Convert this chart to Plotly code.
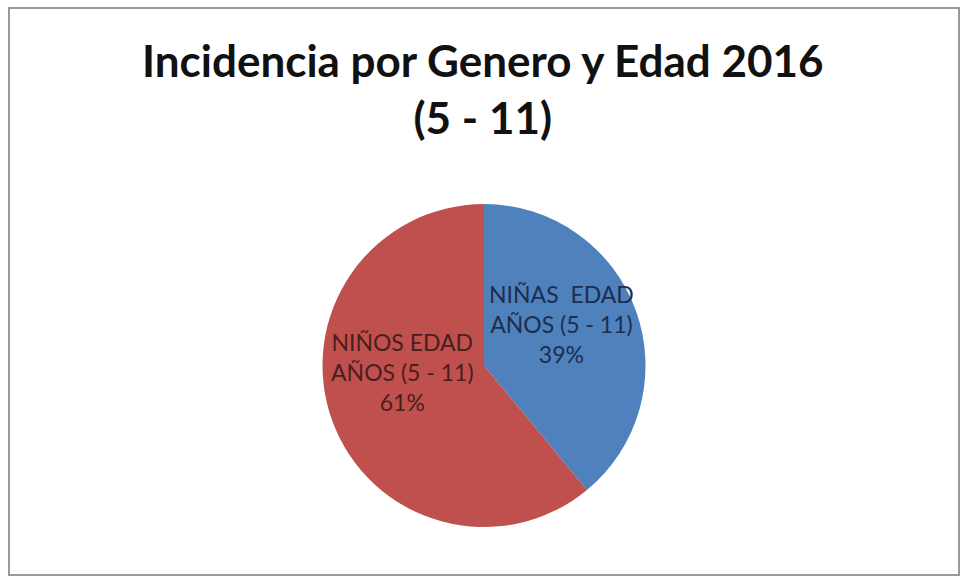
import plotly.graph_objects as go

# Data
labels = ["NIÑAS  EDAD<br>AÑOS (5 - 11)", "NIÑOS EDAD<br>AÑOS (5 - 11)"]
values = [39, 61]
colors = ["#4F81BD", "#C0504D"]
text_colors = ["#1d2d4d", "#4a1e1e"]
title_lines = ["Incidencia por Genero y Edad 2016", "(5 - 11)"]

W, H = 965, 583

fig = go.Figure()
fig.add_trace(go.Pie(
    labels=labels,
    values=values,
    sort=False,
    direction="clockwise",
    rotation=0,
    marker=dict(colors=colors, line=dict(width=0)),
    textinfo="none",
    hoverinfo="label+percent",
    showlegend=False,
    domain=dict(x=[0.3337, 0.6694], y=[0.096, 0.650]),
))

# Slice labels with percentage
label_pos = [(561, 324), (402, 372)]
for lab, val, tc, (px, py) in zip(labels, values, text_colors, label_pos):
    fig.add_annotation(
        x=px / W, y=1 - py / H, xref="paper", yref="paper",
        text=f"{lab}<br>{round(val / sum(values) * 100)}%",
        showarrow=False, align="center", yanchor="middle",
        font=dict(family="Lato, Open Sans, sans-serif", size=23, color=tc),
    )

# Title
fig.add_annotation(
    x=0.5, y=1 - 32 / H, xref="paper", yref="paper",
    text="<br>".join(f"<b>{t}</b>" for t in title_lines),
    showarrow=False, align="center", yanchor="top",
    font=dict(family="Lato, Open Sans, sans-serif", size=44, color="#111111"),
)

# Chart frame
fig.add_shape(type="rect", xref="paper", yref="paper",
              x0=9 / W, x1=959 / W, y0=1 - 575 / H, y1=1 - 8 / H,
              line=dict(color="#9a9a9a", width=2))

fig.update_layout(
    width=W, height=H,
    margin=dict(l=0, r=0, t=0, b=0),
    paper_bgcolor="white",
    plot_bgcolor="white",
)

fig.write_html("out.html")
